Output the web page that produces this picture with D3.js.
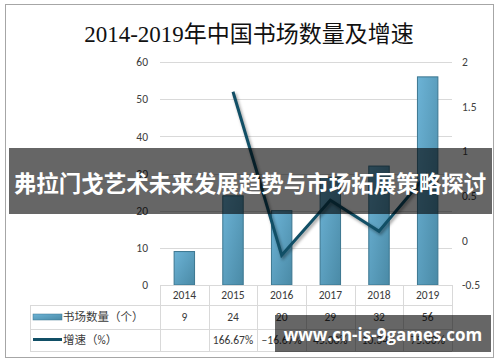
<!DOCTYPE html>
<html>
<head>
<meta charset="utf-8">
<script src="https://cdn.jsdelivr.net/npm/d3@7"></script>
<style>
  body { margin: 0; background: #fff; }
  svg { display: block; }
</style>
</head>
<body>
<div id="chart"></div>
<script>
const years = ["2014", "2015", "2016", "2017", "2018", "2019"];
const counts = [9, 24, 20, 29, 32, 56];
const growth = [null, 1.6667, -0.1667, 0.45, 0.1034, 0.75];
const leftTicks = [0, 10, 20, 30, 40, 50, 60];
const rightTicks = [-0.5, 0, 0.5, 1, 1.5, 2];
const seriesNames = ["书场数量（个）", "增速（%）"];

const width = 500, height = 362;
const svg = d3.select("#chart").append("svg")
  .attr("width", width).attr("height", height);

const defs = svg.append("defs");
const grad = defs.append("linearGradient").attr("id", "barGrad")
  .attr("x1", "0").attr("y1", "0").attr("x2", "1").attr("y2", "1");
grad.append("stop").attr("offset", "0%").attr("stop-color", "#6cb3d6");
grad.append("stop").attr("offset", "100%").attr("stop-color", "#4a8aa6");
defs.append("filter").attr("id", "shadow")
  .append("feGaussianBlur").attr("stdDeviation", 1.5);

// outer frame
svg.append("rect").attr("x", 5.5).attr("y", 4.5).attr("width", 488).attr("height", 353)
  .attr("fill", "#fff").attr("stroke", "#a6a6a6");

svg.append("text").attr("x", 249).attr("y", 42).attr("text-anchor", "middle")
  .attr("font-family", "'Liberation Serif', 'Noto Sans CJK SC', serif")
  .attr("font-size", 23).attr("fill", "#111")
  .text("2014-2019年中国书场数量及增速");

const x = d3.scaleBand().domain(years).range([160, 452]);
const yL = d3.scaleLinear().domain([0, 60]).range([285, 62]);
const yR = d3.scaleLinear().domain([-0.5, 2]).range([285, 62]);

// gridlines
svg.append("g").selectAll("line").data(leftTicks.slice(1)).enter().append("line")
  .attr("x1", 160).attr("x2", 452)
  .attr("y1", d => Math.round(yL(d)) + 0.5).attr("y2", d => Math.round(yL(d)) + 0.5)
  .attr("stroke", "#d9d9d9");

const axisFont = g => g.selectAll("text")
  .attr("font-family", "Carlito, 'Liberation Sans', sans-serif")
  .attr("font-size", 11.5).attr("fill", "#404040");

svg.append("g").attr("transform", "translate(160,0)")
  .call(d3.axisLeft(yL).tickValues(leftTicks).tickSize(0).tickPadding(12))
  .call(g => g.select(".domain").remove())
  .call(axisFont);

svg.append("g").attr("transform", "translate(452,0)")
  .call(d3.axisRight(yR).tickValues(rightTicks).tickFormat(d => String(d)).tickSize(0).tickPadding(10))
  .call(g => g.select(".domain").remove())
  .call(axisFont);

// bars
const bw = x.bandwidth() * 0.42;
svg.append("g").selectAll("rect").data(counts).enter().append("rect")
  .attr("x", (d, i) => x(years[i]) + (x.bandwidth() - bw) / 2)
  .attr("y", d => yL(d))
  .attr("width", bw)
  .attr("height", d => yL(0) - yL(d))
  .attr("fill", "url(#barGrad)")
  .attr("stroke", "#3b7690").attr("stroke-width", 1);

// growth line
const pts = growth.map((g, i) => [years[i], g]).filter(d => d[1] !== null);
const line = d3.line()
  .x(d => x(d[0]) + x.bandwidth() / 2)
  .y(d => yR(d[1]));
svg.append("path").datum(pts).attr("d", line)
  .attr("fill", "none").attr("stroke", "#000").attr("stroke-opacity", 0.35)
  .attr("stroke-width", 3.5).attr("transform", "translate(1.5,2)")
  .attr("filter", "url(#shadow)");
svg.append("path").datum(pts).attr("d", line)
  .attr("fill", "none").attr("stroke", "#114f66").attr("stroke-width", 3)
  .attr("stroke-linejoin", "miter");

// data table
const tbl = svg.append("g").attr("stroke", "#d9d9d9").attr("shape-rendering", "crispEdges");
[285, 305, 329, 351].forEach((yy, i) => {
  tbl.append("line").attr("x1", i === 0 ? 160 : 30).attr("x2", 452)
    .attr("y1", yy + 0.5).attr("y2", yy + 0.5);
});
x.domain().concat(["end"]).forEach((yr, i) => {
  const xx = 160 + i * x.bandwidth();
  tbl.append("line").attr("x1", xx + 0.5).attr("x2", xx + 0.5).attr("y1", 285).attr("y2", 351);
});
tbl.append("line").attr("x1", 30.5).attr("x2", 30.5).attr("y1", 305).attr("y2", 351);

const cellText = (g, tx, ty, s, anchor) => g.append("text")
  .attr("x", tx).attr("y", ty).attr("text-anchor", anchor || "middle")
  .attr("dominant-baseline", "central")
  .attr("font-family", "Carlito, 'Liberation Sans', 'Noto Sans CJK SC', sans-serif")
  .attr("font-size", 11.5).attr("fill", "#3a3a3a").text(s);

const tg = svg.append("g");
const fmt = d3.format(".2%");
years.forEach((yr, i) => {
  const cx = x(yr) + x.bandwidth() / 2;
  cellText(tg, cx, 295, yr);
  cellText(tg, cx, 317, counts[i]);
  cellText(tg, cx, 340, growth[i] === null ? "" : fmt(growth[i]));
});
tg.append("rect").attr("x", 33).attr("y", 314).attr("width", 29).attr("height", 6)
  .attr("fill", "url(#barGrad)").attr("stroke", "#3b7690").attr("stroke-width", 0.5);
tg.append("line").attr("x1", 33).attr("x2", 62).attr("y1", 339.5).attr("y2", 339.5)
  .attr("stroke", "#114f66").attr("stroke-width", 3);
cellText(tg, 63, 317, seriesNames[0], "start");
cellText(tg, 63, 340, seriesNames[1], "start");

// overlay banner
svg.append("rect").attr("x", 9).attr("y", 148).attr("width", 483).attr("height", 66)
  .attr("fill", "#000").attr("fill-opacity", 0.6);
svg.append("text").attr("x", 250).attr("y", 182).attr("text-anchor", "middle")
  .attr("dominant-baseline", "central")
  .attr("font-family", "'Noto Sans CJK SC', sans-serif").attr("font-weight", "bold")
  .attr("font-size", 22.5).attr("fill", "#fff")
  .text("弗拉门戈艺术未来发展趋势与市场拓展策略探讨");

// watermark
svg.append("rect").attr("x", 275).attr("y", 315).attr("width", 216).attr("height", 37)
  .attr("fill", "#000").attr("fill-opacity", 0.6);
svg.append("text").attr("x", 383).attr("y", 334).attr("text-anchor", "middle")
  .attr("dominant-baseline", "central")
  .attr("font-family", "'Open Sans', 'DejaVu Sans', sans-serif").attr("font-weight", "bold")
  .attr("font-size", 17).attr("fill", "#fff")
  .text("www.cn-is-9games.com");
</script>
</body>
</html>
